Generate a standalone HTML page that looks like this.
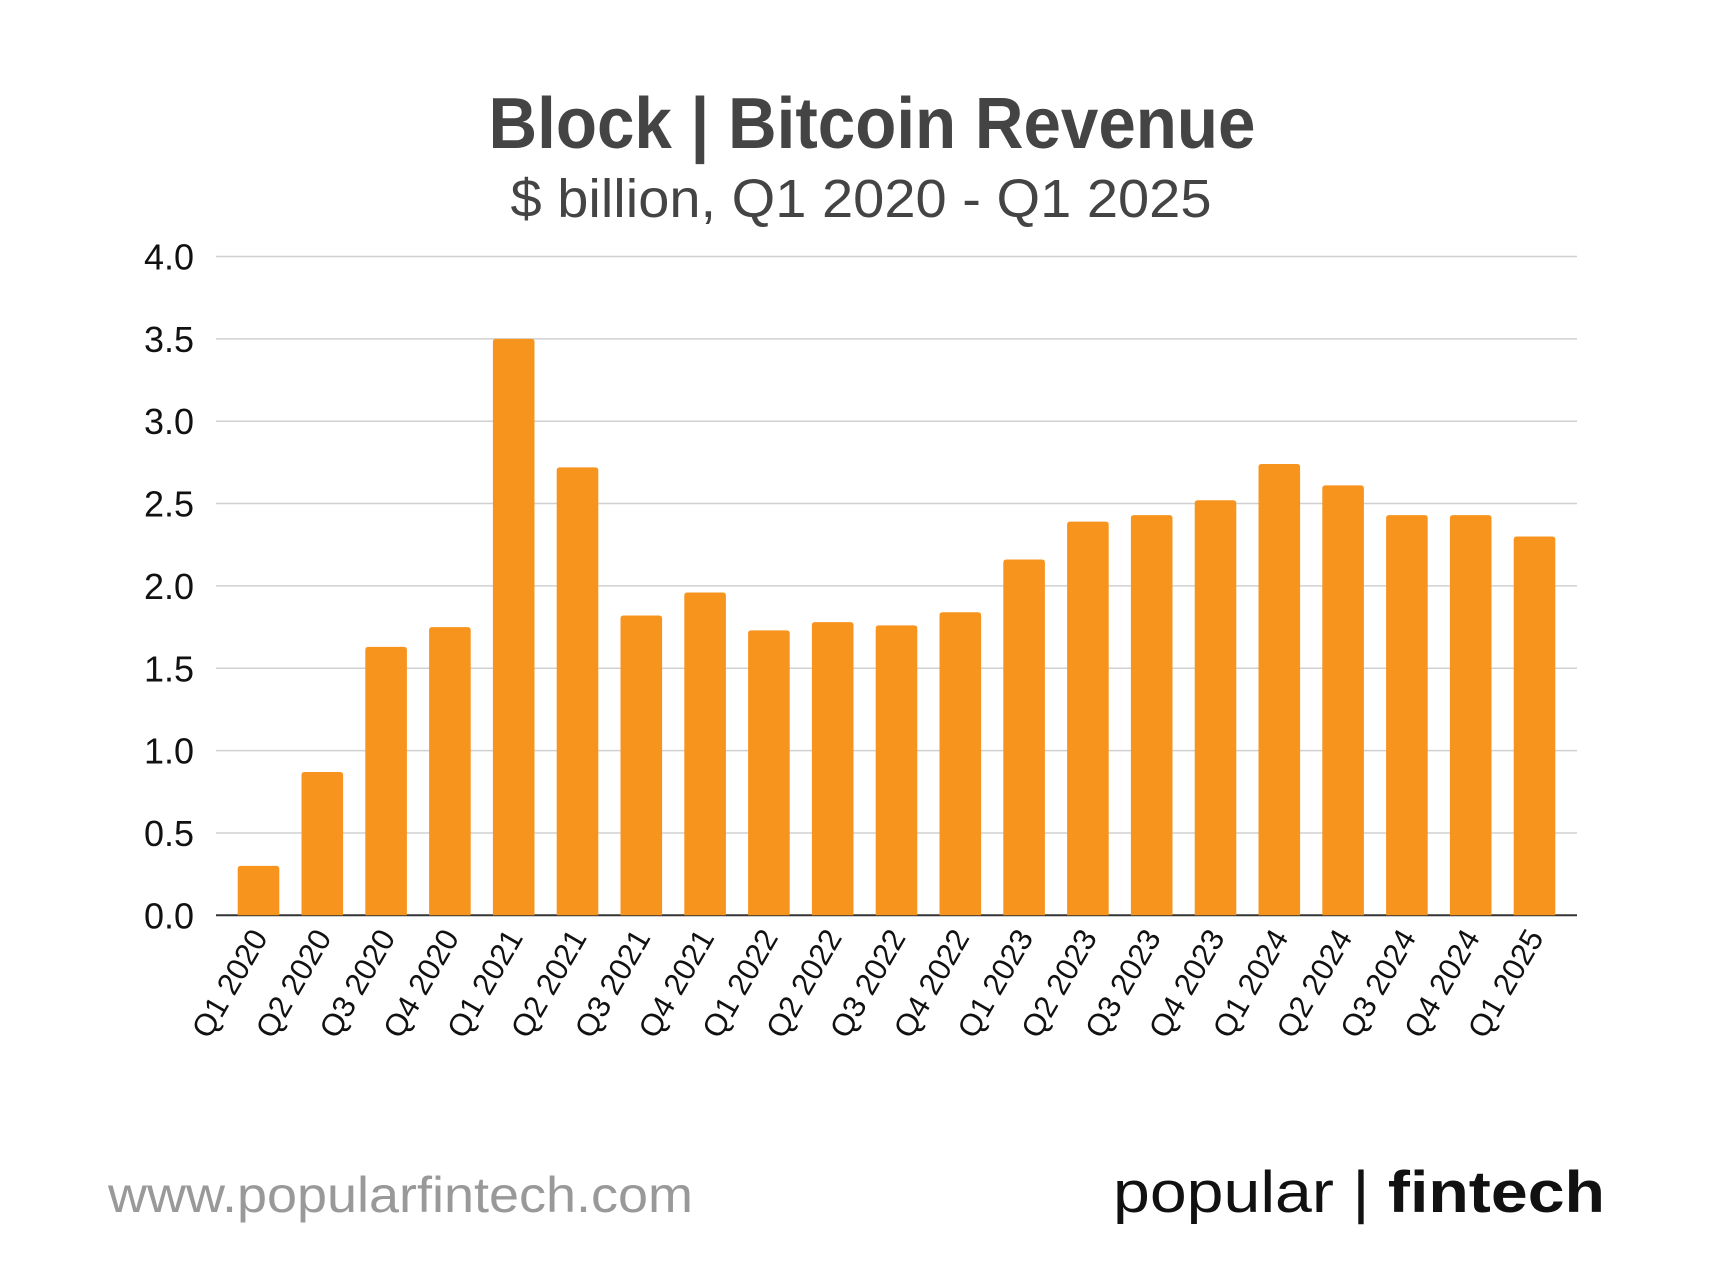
<!DOCTYPE html>
<html><head><meta charset="utf-8"><style>
html,body{margin:0;padding:0;background:#fff;}
svg{display:block;font-family:"Liberation Sans",sans-serif;}
</style></head><body>
<svg id="chart" width="1710" height="1274" viewBox="0 0 1710 1274">
<text x="872" y="148" text-anchor="middle" font-size="72" font-weight="bold" fill="#444" textLength="767" lengthAdjust="spacingAndGlyphs">Block | Bitcoin Revenue</text>
<text x="861" y="217" text-anchor="middle" font-size="54" fill="#444" textLength="701" lengthAdjust="spacingAndGlyphs">$ billion, Q1 2020 - Q1 2025</text>
<g id="grid"></g><g id="bars"></g><g id="xlabels"></g>
<text x="108" y="1212" font-size="50" fill="#999" textLength="585" lengthAdjust="spacingAndGlyphs">www.popularfintech.com</text>
<text x="1113" y="1212" font-size="58" fill="#111" textLength="492" lengthAdjust="spacingAndGlyphs">popular | <tspan font-weight="bold">fintech</tspan></text>
</svg>
<script>
const categories=["Q1 2020","Q2 2020","Q3 2020","Q4 2020","Q1 2021","Q2 2021","Q3 2021","Q4 2021","Q1 2022","Q2 2022","Q3 2022","Q4 2022","Q1 2023","Q2 2023","Q3 2023","Q4 2023","Q1 2024","Q2 2024","Q3 2024","Q4 2024","Q1 2025"];
const revenue=[0.30,0.87,1.63,1.75,3.50,2.72,1.82,1.96,1.73,1.78,1.76,1.84,2.16,2.39,2.43,2.52,2.74,2.61,2.43,2.43,2.30];
const yTicks=[0,0.5,1,1.5,2,2.5,3,3.5,4];
const yTickLabels=["0.0","0.5","1.0","1.5","2.0","2.5","3.0","3.5","4.0"];
const NS="http://www.w3.org/2000/svg";
const L=216,R=1577,T=256.5,B=915.3,yMax=4,pad=42.5;
const y=v=>B-(v/yMax)*(B-T);
const step=(R-L-2*pad)/(categories.length-1);
const x=i=>L+pad+step*i;
const bw=41.6;
function mk(t,a,p){const e=document.createElementNS(NS,t);for(const k in a)e.setAttribute(k,a[k]);p.appendChild(e);return e;}
const grid=document.getElementById('grid');
yTicks.forEach((v,i)=>{
 const ln=mk('line',{x1:L,x2:R,y1:y(v),y2:y(v),stroke:v===0?'#333':'#d0d0d0','stroke-width':v===0?2:1.5},grid);
 
 
 const t=mk('text',{x:194,y:y(v)+13,'text-anchor':'end','font-size':36,fill:'#111'},grid);
 t.textContent=yTickLabels[i];
 
 
});
const bars=document.getElementById('bars'),xl=document.getElementById('xlabels');
revenue.forEach((v,i)=>{
 const r=mk('path',{d:`M${x(i)-bw/2},${B} V${y(v)+3} q0,-3 3,-3 H${x(i)+bw/2-3} q3,0 3,3 V${B} Z`,fill:'#f7941d'},bars);
 
 
 const t=mk('text',{x:x(i)+10,y:B+22,'text-anchor':'end','font-size':31,fill:'#111',transform:`rotate(-60 ${x(i)+10} ${B+22})`},xl);
 t.textContent=categories[i];
 
 
});
</script>
</body></html>
